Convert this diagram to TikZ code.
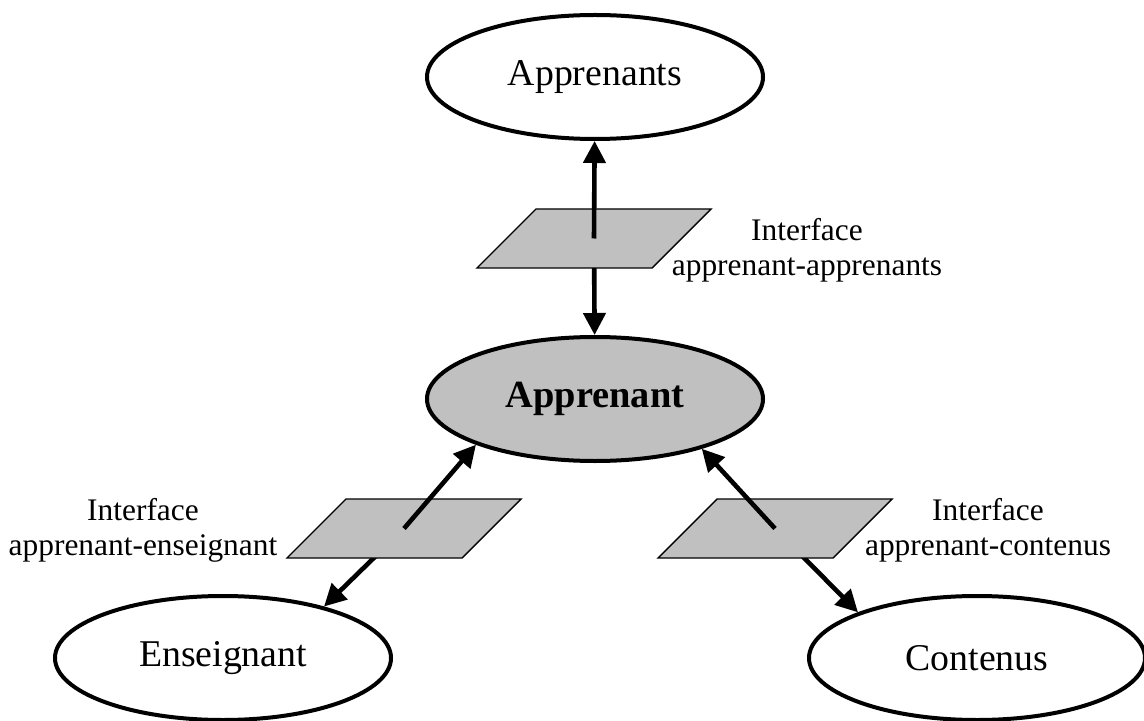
\documentclass[tikz,border=0pt]{standalone}
\usepackage{fontspec}
\setmainfont{Liberation Serif}
\usetikzlibrary{shapes.geometric,arrows.meta,backgrounds}
\definecolor{grisI}{RGB}{192,192,192}
\tikzset{
  pole/.style={ellipse, draw, line width=2pt, fill=white, minimum width=168pt,
    minimum height=62pt, inner sep=0pt, font=\fontsize{18.9}{22}\selectfont},
  iface/.style={trapezium, trapezium left angle=45, trapezium right angle=135,
    draw, line width=0.7pt, fill=grisI, inner xsep=29pt, inner ysep=14.75pt},
  fleche/.style={line width=2.3pt, -{Triangle[length=11pt,width=11pt]}},
  etiq/.style={align=center, font=\fontsize{15.7}{17.5}\selectfont}
}
\begin{document}
\begin{tikzpicture}[x=0.5pt,y=-0.5pt]
\useasboundingbox (0,0) rectangle (1144,721);

% Les poles
\node[pole] (apps) at (595,77) {Apprenants};
\node[pole, fill=grisI, font=\fontsize{19.2}{22}\selectfont\bfseries] (me) at (595,399) {Apprenant};
\node[pole] (ens) at (223,658) {Enseignant};
\node[pole] (cont) at (977,658) {Contenus};

% Les interfaces
\node[iface] (pT) at (594,238.5) {};
\node[iface] (pL) at (404,528.5) {};
\node[iface] (pR) at (775,528.5) {};

\node[etiq] (lblT) at (807,250) {Interface\\apprenant-apprenants};
\node[etiq] (lblL) at (143,530) {Interface\\apprenant-enseignant};
\node[etiq] (lblR) at (988,530) {Interface\\apprenant-contenus};

% Fleches (la partie basse passe sous l'interface)
\draw[fleche] (pT.center) -- (apps);
\draw[fleche] (pL.center) -- (me.201);
\draw[fleche] (pR.center) -- (me.335);
\begin{scope}[on background layer]
  \draw[fleche] (pT.center) -- (me);
  \draw[fleche] (pL.center) -- (ens.27);
  \draw[fleche] (pR.center) -- (cont.159);
\end{scope}
\end{tikzpicture}
\end{document}
